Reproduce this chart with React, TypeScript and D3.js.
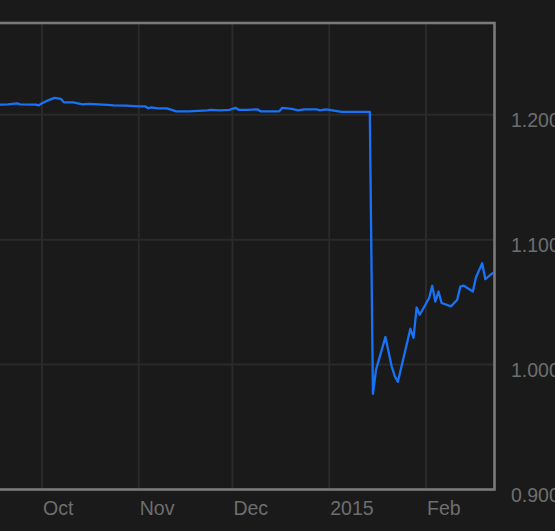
import React from "react";
import * as d3 from "d3";

const dates: string[] = [
  "2014-09-12", "2014-09-17", "2014-09-20", "2014-09-23", "2014-09-24", "2014-09-29", "2014-09-30",
  "2014-10-01", "2014-10-03", "2014-10-05", "2014-10-07", "2014-10-08", "2014-10-11", "2014-10-14",
  "2014-10-16", "2014-10-19", "2014-10-22", "2014-10-24", "2014-10-28",
  "2014-11-01", "2014-11-03", "2014-11-04", "2014-11-05", "2014-11-07", "2014-11-10", "2014-11-11",
  "2014-11-13", "2014-11-17", "2014-11-20", "2014-11-23", "2014-11-24", "2014-11-27", "2014-11-30",
  "2014-12-02", "2014-12-03", "2014-12-06", "2014-12-09", "2014-12-10", "2014-12-16", "2014-12-17",
  "2014-12-20", "2014-12-22", "2014-12-24", "2014-12-28", "2014-12-29", "2014-12-31",
  "2015-01-02", "2015-01-05", "2015-01-14", "2015-01-15", "2015-01-16", "2015-01-19", "2015-01-21",
  "2015-01-22", "2015-01-23", "2015-01-27", "2015-01-28", "2015-01-29", "2015-01-30",
  "2015-02-02", "2015-02-03", "2015-02-04", "2015-02-05", "2015-02-06", "2015-02-09", "2015-02-11",
  "2015-02-12", "2015-02-13", "2015-02-16", "2015-02-17", "2015-02-19", "2015-02-20", "2015-02-22T12:00Z",
];

const rates: number[] = [
  1.2081, 1.2081, 1.2084, 1.2092, 1.2084, 1.2082, 1.2076,
  1.2092, 1.2116, 1.2136, 1.2128, 1.2100, 1.2100, 1.2084,
  1.2088, 1.2084, 1.2080, 1.2076, 1.2073,
  1.2068, 1.2068, 1.2052, 1.2060, 1.2052, 1.2052, 1.2044,
  1.2028, 1.2028, 1.2032, 1.2036, 1.2040, 1.2036, 1.2040,
  1.2056, 1.2040, 1.2040, 1.2044, 1.2028, 1.2028, 1.2056,
  1.2048, 1.2036, 1.2044, 1.2044, 1.2036, 1.2044,
  1.2036, 1.2024, 1.2024, 0.9766, 0.9960, 1.0221, 0.9986,
  0.9907, 0.9862, 1.0287, 1.0213, 1.0457, 1.0399,
  1.0533, 1.0631, 1.0505, 1.0585, 1.0493, 1.0466, 1.0519,
  1.0625, 1.0633, 1.0585, 1.0697, 1.0812, 1.0684, 1.0736,
];

const xTickDates: string[] = ["2014-10-01", "2014-11-01", "2014-12-01", "2015-01-01", "2015-02-01"];
const xTickLabels: string[] = ["Oct", "Nov", "Dec", "2015", "Feb"];
const yTicks: number[] = [1.2, 1.1, 1.0, 0.9];
const yDomain: [number, number] = [0.9, 1.2735];

const W = 555;
const H = 531;
const plotTop = 23;
const plotBottom = 489.5;
const plotRight = 494.5;

export default function App() {
  const x = d3
    .scaleUtc()
    .domain([new Date("2014-10-01"), new Date("2015-02-01")])
    .range([42, 426]);
  const y = d3.scaleLinear().domain(yDomain).range([plotBottom, plotTop]);

  const data = dates.map((d, i) => ({ date: new Date(d), v: rates[i] }));
  const line = d3
    .line<{ date: Date; v: number }>()
    .x((d) => x(d.date))
    .y((d) => y(d.v));

  const font = "'Liberation Sans', Arial, Helvetica, sans-serif";
  const textColor = "#6e6e6e";

  return (
    <div style={{ position: "fixed", left: 0, top: 0, width: W, height: H, background: "#1a1a1a" }}>
      <svg width={W} height={H} style={{ display: "block" }}>
        <defs>
          <clipPath id="plotClip">
            <rect x={-20} y={plotTop} width={plotRight + 20} height={plotBottom - plotTop} />
          </clipPath>
        </defs>
        <rect x={0} y={0} width={W} height={H} fill="#1a1a1a" />
        {xTickDates.map((d) => (
          <line
            key={"vx" + d}
            x1={x(new Date(d))}
            x2={x(new Date(d))}
            y1={plotTop}
            y2={plotBottom}
            stroke="#2a2a2a"
            strokeWidth={2}
          />
        ))}
        {yTicks.map((t) => (
          <line
            key={"hy" + t}
            x1={-10}
            x2={plotRight}
            y1={y(t)}
            y2={y(t)}
            stroke="#2a2a2a"
            strokeWidth={2}
          />
        ))}
        <path
          d={line(data) || ""}
          fill="none"
          stroke="#1872f6"
          strokeWidth={2.3}
          strokeLinejoin="round"
          clipPath="url(#plotClip)"
        />
        <rect
          x={-20}
          y={plotTop}
          width={plotRight + 20}
          height={plotBottom - plotTop}
          fill="none"
          stroke="#7a7a7a"
          strokeWidth={2.6}
        />
        {xTickDates.map((d, i) => (
          <text
            key={"xl" + d}
            x={x(new Date(d)) + 1}
            y={515}
            fill={textColor}
            fontFamily={font}
            fontSize={19.5}
          >
            {xTickLabels[i]}
          </text>
        ))}
        {yTicks.map((t) => (
          <text
            key={"yl" + t}
            x={511}
            y={y(t) + 12.5}
            fill={textColor}
            fontFamily={font}
            fontSize={19.5}
          >
            {d3.format(".3f")(t)}
          </text>
        ))}
      </svg>
    </div>
  );
}
